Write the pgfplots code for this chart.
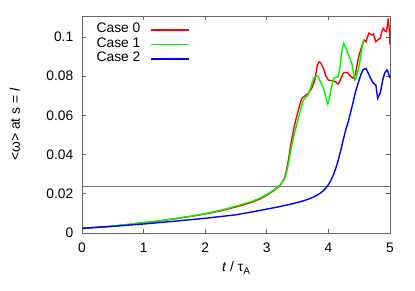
\documentclass[border=0pt]{standalone}
\usepackage{pgfplots}
\pgfplotsset{compat=1.18}
\usepackage{fontspec}
\setmainfont{Liberation Sans}
\definecolor{cRed}{RGB}{255,0,0}
\definecolor{cGreen}{RGB}{0,245,0}
\definecolor{cBlue}{RGB}{0,0,255}
\begin{document}
\fontsize{13.8}{16}\selectfont
\begin{tikzpicture}
\useasboundingbox (0,0) rectangle (415pt,291pt);
\begin{axis}[
  at={(82pt,58pt)}, anchor=south west,
  scale only axis, width=308pt, height=217pt,
  xmin=0, xmax=5, ymin=0, ymax=0.1107,
  xtick={0,1,2,3,4,5},
  ytick={0,0.02,0.04,0.06,0.08,0.1},
  scaled y ticks=false,
  /pgf/number format/assume math mode=true,
  yticklabel style={/pgf/number format/fixed, /pgf/number format/precision=2, xshift=-4pt},
  tick align=inside, major tick length=4pt,
  axis line style={black!60, line width=0.8pt},
  every tick/.style={black!60, line width=0.8pt},
  xticklabel style={yshift=-5pt},
  xlabel={\textit{t} / τ\raisebox{-0.45ex}{\fontsize{10}{12}\selectfont A}},
  ylabel={<ω> at s = \textit{l}},
  every axis x label/.style={at={(axis description cs:0.5,-0.161)}, anchor=center},
  every axis y label/.style={at={(axis description cs:-0.2175,0.5)}, anchor=center, rotate=90},
  legend plot pos=right,
  legend cell align=right,
  legend image code/.code={\draw[#1] (0pt,0pt) -- (38pt,0pt);},
  legend style={at={(axis description cs:0.350,0.968)}, anchor=north east,
    draw=none, fill=none, inner sep=0pt, outer sep=0pt, row sep=0pt, column sep=10pt,
    nodes={inner sep=0pt, text height=10pt, text depth=4.5pt}},
]
\addplot[black!55, line width=0.8pt, forget plot] coordinates {(0,0.024) (5,0.024)};
\addplot[cRed, line width=1.4pt] coordinates {
(0,0.0024) (0.25,0.0029) (0.5,0.0035) (0.75,0.0043) (1,0.0052) (1.25,0.0061) (1.5,0.0072) (1.75,0.0084)
(2,0.0097) (2.25,0.0113) (2.5,0.0133) (2.75,0.0156) (2.9,0.0175) (3.0,0.0193) (3.1,0.0213) (3.2,0.0238) (3.25,0.0258)
(3.28,0.0275) (3.31,0.0305) (3.35,0.0370) (3.4,0.0470) (3.45,0.0550) (3.5,0.0612) (3.55,0.0670)
(3.57,0.0687) (3.62,0.0700) (3.68,0.0715) (3.73,0.0738) (3.78,0.0780) (3.82,0.0855) (3.85,0.0874)
(3.88,0.0865) (3.92,0.0840) (3.96,0.0800) (4.0,0.0780) (4.04,0.0778) (4.08,0.0777) (4.12,0.0770)
(4.16,0.0760) (4.20,0.0785) (4.24,0.0815) (4.28,0.0820) (4.32,0.0815) (4.36,0.0800) (4.40,0.0790)
(4.44,0.0810) (4.47,0.0866) (4.50,0.0910) (4.54,0.0950) (4.58,0.0985) (4.61,0.0976) (4.64,0.1005)
(4.66,0.1020) (4.70,0.1010) (4.73,0.1015) (4.77,0.0976) (4.80,0.0985) (4.84,0.0993) (4.87,0.1030)
(4.89,0.1044) (4.92,0.1030) (4.94,0.1027) (4.96,0.1060) (4.97,0.1095) (4.99,0.1030) (5.0,0.0960)
};
\addlegendentry{Case 0}
\addplot[cGreen, line width=1.4pt] coordinates {
(0,0.0024) (0.25,0.0029) (0.5,0.0035) (0.75,0.0044) (1,0.0053) (1.25,0.0062) (1.5,0.0073) (1.75,0.0085)
(2,0.0099) (2.25,0.0116) (2.5,0.0137) (2.75,0.0160) (2.9,0.0179) (3.0,0.0197) (3.1,0.0216) (3.2,0.0240) (3.25,0.0258)
(3.28,0.0272) (3.31,0.0295) (3.35,0.0350) (3.4,0.0440) (3.45,0.0510) (3.5,0.0570) (3.55,0.0630)
(3.59,0.0675) (3.63,0.0690) (3.67,0.0704) (3.72,0.0750) (3.76,0.0790) (3.80,0.0800) (3.83,0.0800)
(3.87,0.0772) (3.90,0.0755) (3.93,0.0730) (3.96,0.0690) (3.99,0.0658) (4.02,0.0690) (4.04,0.0730)
(4.07,0.0770) (4.09,0.0790) (4.13,0.0795) (4.16,0.0798) (4.19,0.0850) (4.22,0.0930) (4.25,0.0968)
(4.28,0.0945) (4.32,0.0917) (4.35,0.0890) (4.38,0.0866) (4.41,0.0815) (4.43,0.0780) (4.46,0.0800)
(4.49,0.0840) (4.52,0.0890) (4.54,0.0934) (4.57,0.0985)
};
\addlegendentry{Case 1}
\addplot[cBlue, line width=1.4pt] coordinates {
(0,0.0024) (0.5,0.0034) (1,0.0046) (1.5,0.0060) (2,0.0075) (2.5,0.0093) (2.75,0.0107) (3,0.0122) (3.2,0.0134)
(3.4,0.0148) (3.55,0.0160) (3.65,0.0170) (3.75,0.0182) (3.82,0.0194) (3.88,0.0206) (3.93,0.0220) (3.97,0.0234)
(4.0,0.0246) (4.04,0.0268) (4.08,0.0296) (4.12,0.0330)
(4.16,0.0372) (4.20,0.0420) (4.24,0.0474) (4.28,0.0525) (4.32,0.0565) (4.36,0.0615) (4.40,0.0665)
(4.44,0.0720) (4.49,0.0772) (4.53,0.0810) (4.56,0.0832) (4.61,0.0840) (4.66,0.0806) (4.70,0.0780)
(4.73,0.0764) (4.77,0.0755) (4.80,0.0687) (4.84,0.0713) (4.87,0.0760) (4.89,0.0790) (4.92,0.0820)
(4.95,0.0832) (4.97,0.0820) (5.0,0.0790)
};
\addlegendentry{Case 2}
\end{axis}
\end{tikzpicture}
\end{document}
